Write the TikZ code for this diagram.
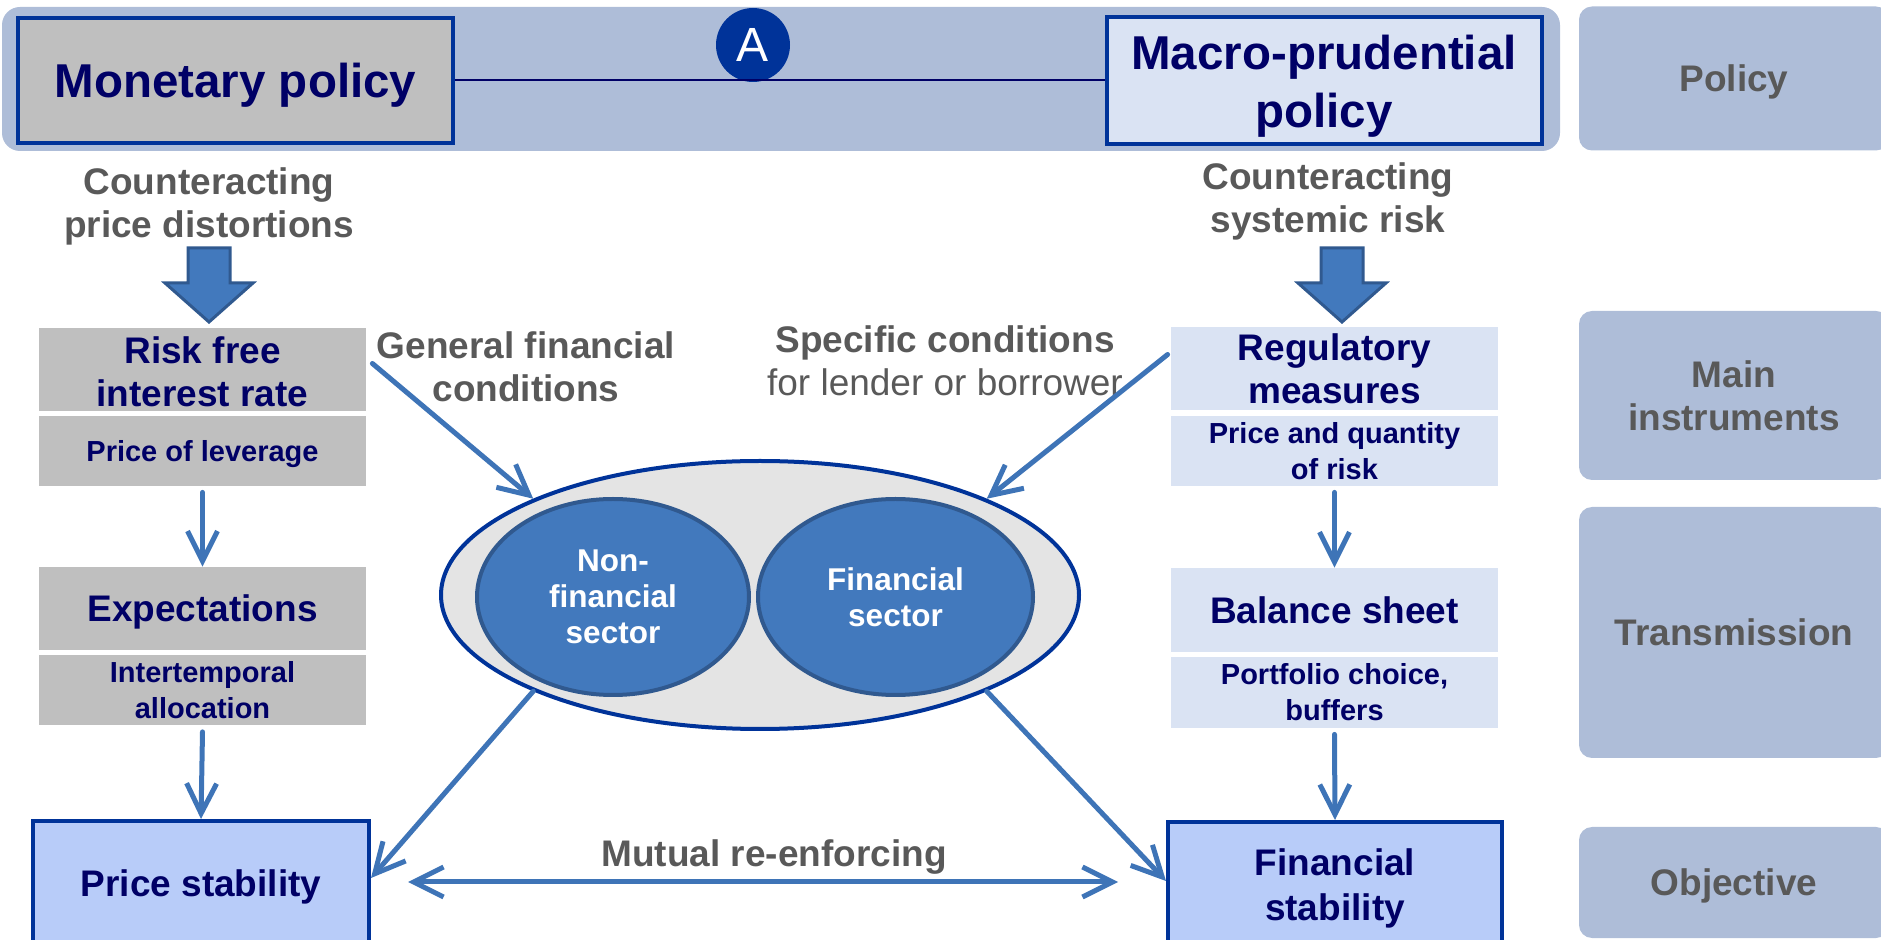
\documentclass[tikz,border=0pt]{standalone}
\usepackage{fontspec}
\setmainfont{Liberation Sans}
\usetikzlibrary{shapes.geometric,arrows.meta}

\definecolor{bandblue}{HTML}{AEBDD8}
\definecolor{navytext}{HTML}{000066}
\definecolor{boxborder}{HTML}{003399}
\definecolor{greytext}{HTML}{595959}
\definecolor{greybox}{HTML}{BFBFBF}
\definecolor{paleblue}{HTML}{DAE3F3}
\definecolor{goalblue}{HTML}{B8CCF9}
\definecolor{linkblue}{HTML}{3E74B7}
\definecolor{sectorblue}{HTML}{4279BD}
\definecolor{sectorrim}{HTML}{30598F}
\definecolor{poolgrey}{HTML}{E4E4E4}

\newcommand\hugetext{\fontsize{23.75pt}{29pt}\selectfont\bfseries}
\newcommand\midtext{\fontsize{18.5pt}{21.5pt}\selectfont\bfseries}
\newcommand\smalltext{\fontsize{14.5pt}{18pt}\selectfont\bfseries}
\newcommand\sectortext{\fontsize{15.75pt}{18pt}\selectfont\bfseries}

\tikzset{
  policybox/.style={draw=boxborder, line width=2pt, minimum width=217.5pt, minimum height=62.5pt, text=navytext, align=center, font=\hugetext},
  instrbox/.style={minimum width=163.5pt, text=navytext, align=center, inner sep=0pt},
  goalbox/.style={draw=boxborder, line width=2pt, fill=goalblue, minimum height=62.5pt, text=navytext, align=center, font=\midtext, text depth=0pt},
  rowpanel/.style={fill=bandblue, rounded corners=6.5pt, minimum width=155pt, text=greytext, align=center, font=\midtext},
  sidenote/.style={text=greytext, align=center, font=\midtext},
  flow/.style={draw=linkblue, line width=2.5pt, line cap=round, line join=round},
  sector/.style={ellipse, draw=sectorrim, line width=2pt, fill=sectorblue, text=white, align=center, font=\sectortext, minimum height=98pt, inner sep=0pt},
  blockarrow/.style={fill=sectorblue, draw=sectorrim, line width=1.5pt}
}

\begin{document}
\begin{tikzpicture}[x=0.5pt, y=-0.5pt, >={Straight Barb[length=15pt,width=15pt]}]
\useasboundingbox (0,0) rectangle (1881,940);
% policy band and row panels
\fill[bandblue, rounded corners=9pt] (2,7) rectangle (1560,151);
\node[rowpanel, minimum height=72pt, text depth=0pt] (pol) at (1734,78.5) {Policy};
\node[rowpanel, minimum height=84.5pt] (mainin) at (1734,395.5) {Main\\instruments};
\node[rowpanel, minimum height=125.5pt] (trans) at (1734,632.5) {Transmission};
\node[rowpanel, minimum height=55.5pt, text depth=0pt] (obj) at (1734,882.5) {Objective};

% the two policies
\node[policybox, fill=greybox, text depth=0pt] (mon) at (235.5,80.5) {Monetary policy};
\node[policybox, fill=paleblue] (mac) at (1324,80.5) {\rule{0pt}{23pt}Macro-prudential\\policy};
\node[circle, fill=boxborder, minimum size=37pt, inner sep=0pt, text=white, font=\fontsize{24pt}{24pt}\selectfont] (tag) at (753,45) {A};
\draw[navytext, line width=1pt] (mon.east) -- (mac.west);

\node[sidenote] (cpd) at (209,206) {Counteracting\\price distortions};
\node[sidenote] (csr) at (1328,201) {Counteracting\\systemic risk};
\foreach \cx in {209,1342}
  \draw[blockarrow] (\cx-21,248) -- (\cx+21,248) -- (\cx+21,283) -- (\cx+44,283) -- (\cx,322) -- (\cx-44,283) -- (\cx-21,283) -- cycle;

% monetary side
\node[instrbox, fill=greybox, minimum height=41.5pt, font=\midtext] (rf) at (202.5,369.5) {\rule{0pt}{16pt}Risk free\\interest rate};
\node[instrbox, fill=greybox, minimum height=35pt, font=\smalltext, text depth=0pt] (pl) at (202.5,451) {Price of leverage};
\node[instrbox, fill=greybox, minimum height=41.5pt, font=\midtext, text depth=0pt] (ex) at (202.5,608.5) {Expectations};
\node[instrbox, fill=greybox, minimum height=35pt, font=\smalltext] (ia) at (202.5,690.5) {Intertemporal\\allocation};
\node[goalbox, minimum width=168pt] (ps) at (201,883.5) {Price stability};

% macro-prudential side
\node[instrbox, fill=paleblue, minimum height=41.5pt, font=\midtext] (rm) at (1334.5,368.5) {Regulatory\\measures};
\node[instrbox, fill=paleblue, minimum height=35pt, font=\smalltext] (pq) at (1334.5,451) {Price and quantity\\of risk};
\node[instrbox, fill=paleblue, minimum height=42pt, font=\midtext] (bs) at (1334.5,610) {Balance sheet};
\node[instrbox, fill=paleblue, minimum height=35.5pt, font=\smalltext] (pc) at (1334.5,692.5) {Portfolio choice,\\buffers};
\node[goalbox, minimum width=167pt, font=\fontsize{18.5pt}{22.5pt}\selectfont\bfseries] (fs) at (1335,884.5) {Financial\\stability};

% sectors
\node[ellipse, draw=boxborder, line width=2pt, fill=poolgrey, minimum width=319pt, minimum height=134pt, inner sep=0pt] (pool) at (760,595) {};
\node[sector, minimum width=136pt] (nf) at (613,597) {Non-\\financial\\sector};
\node[sector, minimum width=137.5pt] (fn) at (895.5,597) {Financial\\sector};

\node[sidenote] (gfc) at (526,367) {General financial\\conditions};
\node[sidenote] (spc) at (945,361) {Specific conditions\\{\mdseries for lender or borrower}};
\node[sidenote] (mut) at (774,857.5) {Mutual re-enforcing};

% connectors
\draw[flow, ->] ([yshift=-3pt]pl.south) -- (ex.north);
\draw[flow, ->] ([yshift=-3pt]ia.south) -- (ps.north);
\draw[flow, ->] ([yshift=-3pt]pq.south) -- (bs.north);
\draw[flow, ->] ([yshift=-3pt]pc.south) -- (fs.north);
\draw[flow, ->] ([shift={(6,-6)}]rf.east) -- (pool.157);
\draw[flow, ->] ([shift={(-3,-14)}]rm.west) -- (pool.23);
\draw[flow, ->] (pool.203) -- ([shift={(0,-5.5)}]ps.east);
\draw[flow, ->] (pool.337) -- ([shift={(0,-3.5)}]fs.west);
\draw[flow, <->] ([shift={(37,-1.5)}]ps.east) -- ([shift={(-48,-2.5)}]fs.west);
\end{tikzpicture}
\end{document}
